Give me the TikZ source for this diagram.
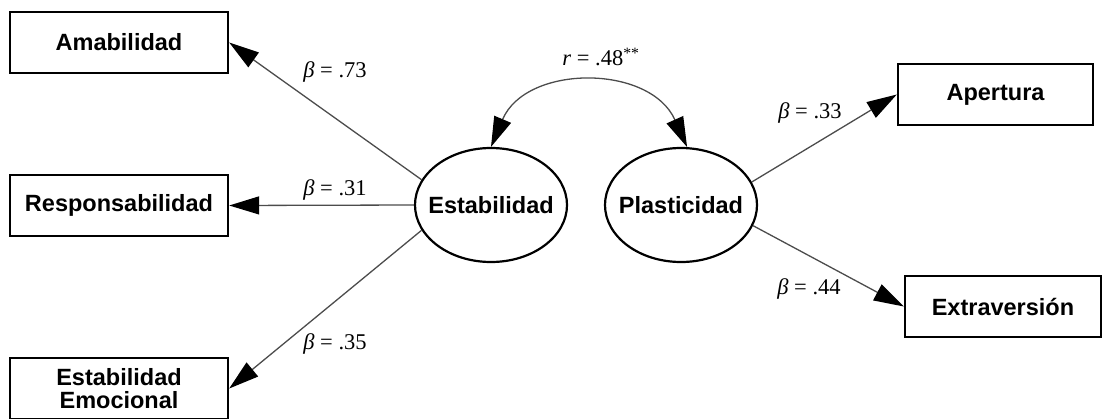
\documentclass[tikz,border=0pt]{standalone}
\usepackage{fontspec}
\setmainfont{Liberation Sans}
\newfontfamily\coeffont{Liberation Serif}
\usepackage{tikz}
\usetikzlibrary{arrows.meta}
\usetikzlibrary{shapes.geometric}

\begin{document}
\begin{tikzpicture}[x=1pt,y=-1pt,
  obsbox/.style={draw,line width=2.4pt,minimum height=61pt,inner sep=0pt,align=center,font=\fontsize{23.5}{23}\selectfont\bfseries},
  latent/.style={ellipse,draw,line width=2.2pt,minimum width=152pt,minimum height=114pt,inner sep=0pt,font=\fontsize{23.5}{23}\selectfont\bfseries},
  semtip/.tip={Triangle[length=30pt,width=18pt,color=black]},
  load/.style={draw=black!70,line width=1.3pt,-{semtip}},
  coef/.style={font=\coeffont\fontsize{22.5}{24}\selectfont}]
\useasboundingbox (0,0) rectangle (1108,418);

\node[obsbox,minimum width=218pt] (ama) at (119,42.5) {Amabilidad};
\node[obsbox,minimum width=218pt] (resp) at (119,205.5) {Responsabilidad};
\node[obsbox,minimum width=218pt] (emo) at (119,388.5) {Estabilidad\\Emocional};
\node[obsbox,minimum width=195pt] (ape) at (995.5,94.5) {Apertura};
\node[obsbox,minimum width=196pt] (ext) at (1003,306.5) {Extraversión};

\node[latent] (est) at (491,205) {\makebox[80pt]{Estabilidad}};
\node[latent] (pla) at (681,205) {\makebox[80pt]{Plasticidad}};

\draw[load] (est.160) -- (ama.east);
\draw[load] (est.west) -- (resp.east);
\draw[load] (est.200) -- (emo.east);
\draw[load] (pla.18) -- (ape.west);
\draw[load] (pla.-16) -- (ext.west);
\draw[load,{semtip}-{semtip}] (est.north) .. controls (526,64) and (650,64) .. (pla.84);

\node[coef] (b1) at (335,72) {{\itshape β} = .73};
\node[coef] (b2) at (335,190) {{\itshape β} = .31};
\node[coef] (b3) at (335,344) {{\itshape β} = .35};
\node[coef] (b4) at (810,113) {{\itshape β} = .33};
\node[coef] (b5) at (809,289) {{\itshape β} = .44};
\node[coef] (r1) at (601,57) {{\itshape r} = .48\textsuperscript{**}};

\end{tikzpicture}
\end{document}
